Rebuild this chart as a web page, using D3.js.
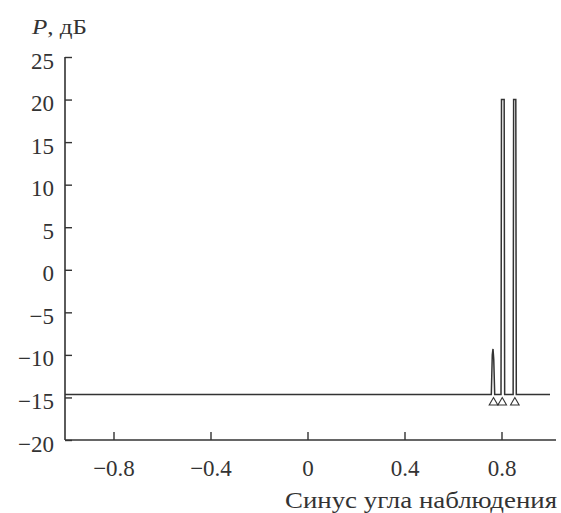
<!DOCTYPE html>
<html>
<head>
<meta charset="utf-8">
<script src="https://cdn.jsdelivr.net/npm/d3@7"></script>
<style>
  body { margin: 0; background: #fff; }
  svg { display: block; }
  svg text { font-family: "Liberation Serif", "Times New Roman", serif; }
  .axis path { display: none; }
  .axis line { stroke: #333; stroke-width: 1.4; }
  .axis text { fill: #333; font-size: 23px; }
</style>
</head>
<body>
<svg id="chart"></svg>
<script>
// Power vs sine of observation angle

const width = 561;
const height = 513;
const FONT = "Liberation Serif, Times New Roman, serif";

// line points (sine of angle, P in dB)
const sinValues = [-1, 0.758, 0.762, 0.765, 0.768, 0.772,
  0.798, 0.8, 0.803, 0.811, 0.813,
  0.848, 0.85, 0.852, 0.859, 0.861, 1];
const pValues = [-14.65, -14.65, -10, -9.3, -10.5, -14.65,
  -14.65, 20, 20, 20, -14.65,
  -14.65, 20, 20, 20, -14.65, -14.65];

// target markers under the peaks
const markerSin = [0.767, 0.803, 0.855];
const markerP = [-15.6, -15.6, -15.6];

const xTicks = [-0.8, -0.4, 0, 0.4, 0.8];
const yTicks = [-20, -15, -10, -5, 0, 5, 10, 15, 20, 25];

const svg = d3.select("#chart").attr("width", width).attr("height", height);

const x = d3.scaleLinear().domain([-1, 1]).range([65, 550]);
const y = d3.scaleLinear().domain([-20, 25]).range([440, 57]);

const fmt = (d) => (d < 0 ? "\u2212" + Math.abs(d) : String(d));

// axes
const yAxis = svg.append("g")
  .attr("class", "axis")
  .attr("transform", `translate(${x(-1)},0)`)
  .call(d3.axisLeft(y).tickValues(yTicks).tickSize(-7).tickPadding(11).tickFormat(fmt));
yAxis.attr("font-family", FONT);
yAxis.selectAll("text").attr("dy", "0.48em");

const xAxis = svg.append("g")
  .attr("class", "axis")
  .attr("transform", `translate(0,${y(-20)})`)
  .call(d3.axisBottom(x).tickValues(xTicks).tickSize(-8).tickPadding(20).tickFormat(fmt));
xAxis.attr("font-family", FONT);

// axis lines
svg.append("line")
  .attr("x1", x(-1)).attr("x2", x(-1))
  .attr("y1", y(25)).attr("y2", y(-20))
  .attr("stroke", "#333").attr("stroke-width", 1.6);
svg.append("line")
  .attr("x1", x(-1)).attr("x2", 556)
  .attr("y1", y(-20)).attr("y2", y(-20))
  .attr("stroke", "#333").attr("stroke-width", 1.6);

// data line
const lineData = sinValues.map((s, i) => [s, pValues[i]]);
svg.append("path")
  .datum(lineData)
  .attr("fill", "none")
  .attr("stroke", "#333")
  .attr("stroke-width", 1.5)
  .attr("d", d3.line().x((d) => x(d[0])).y((d) => y(d[1])));

// triangle markers
svg.selectAll(".marker")
  .data(markerSin.map((s, i) => [s, markerP[i]]))
  .join("path")
  .attr("class", "marker")
  .attr("transform", (d) => `translate(${x(d[0])},${y(d[1])})`)
  .attr("d", d3.symbol(d3.symbolTriangle, 32))
  .attr("fill", "none")
  .attr("stroke", "#333")
  .attr("stroke-width", 1.1);

// titles
const yTitle = svg.append("text")
  .attr("x", 32).attr("y", 34)
  .attr("font-size", 21)
  .attr("textLength", 55)
  .attr("lengthAdjust", "spacingAndGlyphs")
  .attr("fill", "#333");
yTitle.append("tspan").attr("font-style", "italic").text("P");
yTitle.append("tspan").text(", дБ");

svg.append("text")
  .attr("x", 557).attr("y", 508)
  .attr("text-anchor", "end")
  .attr("font-size", 24)
  .attr("textLength", 272)
  .attr("lengthAdjust", "spacingAndGlyphs")
  .attr("fill", "#333")
  .text("Синус угла наблюдения");
</script>
</body>
</html>
